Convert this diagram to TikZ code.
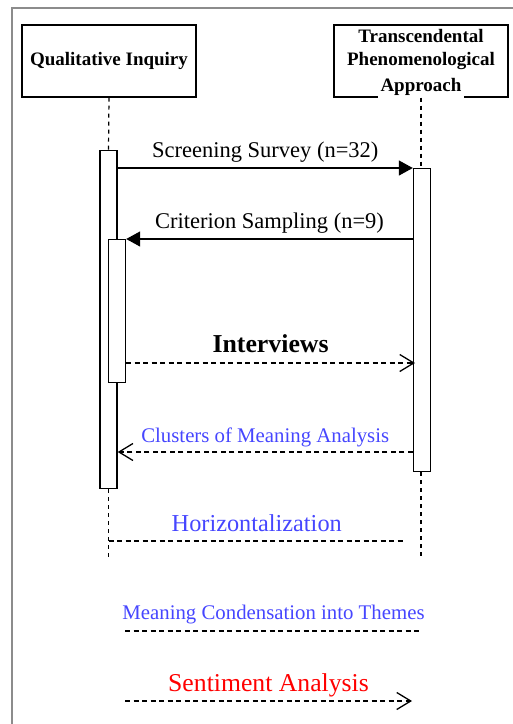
\documentclass[tikz,border=0pt]{standalone}
\usepackage{fontspec}
\setmainfont{Liberation Serif}
\usetikzlibrary{arrows.meta}
\definecolor{mblue}{RGB}{70,70,255}
\definecolor{frame}{RGB}{140,140,140}
\begin{document}
\begin{tikzpicture}[x=1pt,y=-1pt,
  hdr/.style={draw, line width=1.4pt, minimum width=174pt, minimum height=72pt, inner sep=0pt, align=center, font=\fontsize{19}{26}\selectfont\bfseries},
  hdrline/.style={fill=white, inner sep=2.5pt, font=\fontsize{19}{26}\selectfont\bfseries},
  bar/.style={draw, line width=1.4pt, fill=white, minimum width=17pt, inner sep=0pt, anchor=north},
  life/.style={line width=1.2pt, dash pattern=on 4pt off 4pt},
  msg/.style={line width=1.4pt, -{Triangle[length=14pt,width=15pt]}},
  reply/.style={line width=1.3pt, dash pattern=on 5pt off 3.5pt},
  replyarrow/.style={reply, -{Straight Barb[length=14pt,width=17pt,line width=1.3pt]}},
  lbl/.style={anchor=base, inner sep=0pt},
  f225/.style={font=\fontsize{22.5}{27}\selectfont},
  f21/.style={font=\fontsize{20.8}{25}\selectfont},
]
\useasboundingbox (0,0) rectangle (513,724);
% outer frame (only left and top edges visible)
\draw[frame, line width=1.5pt] (12,730) -- (12,8) -- (520,8);

% participants
\node[hdr] (qi) at (109,61) {Qualitative Inquiry};
\node[hdr] (tpa) at (421,61) {};
\node[hdrline] (tpa1) at (421,36) {Transcendental};
\node[hdrline] (tpa2) at (421,61) {Phenomenological};
\node[hdrline] (tpa3) at (421,87) {Approach};

% activation bars
\node[bar, minimum height=338pt] (b1) at (108.5,150) {};
\node[bar, minimum height=303pt] (b2) at (422,168) {};
\node[bar, minimum height=143pt] (b3) at (117,239) {};

% lifelines
\coordinate (l1end) at (108.5,558);
\coordinate (l2end) at (421,558);
\draw[life] (qi.south) -- (b1.north);
\draw[life] (tpa.south) -- (tpa.south |- b2.north);
\draw[life] (b1.south) -- (l1end);
\draw[life] (b2.south -| l2end) -- (l2end);

% messages
\draw[msg] (b1.east |- b2.north) -- (b2.north west)
  node[lbl, f225, midway, yshift=11pt] {Screening Survey (n=32)};
\draw[msg] (b2.west |- b3.north) -- (b3.north east)
  node[lbl, f225, midway, yshift=11pt] {Criterion Sampling (n=9)};

\coordinate (y3) at (0,363);
\coordinate (m3e) at (415,363);
\draw[replyarrow] (b3.east |- y3) -- (m3e)
  node[lbl, midway, yshift=11pt, font=\fontsize{25.8}{30}\selectfont\bfseries] {Interviews};

\coordinate (y4) at (0,452);
\draw[replyarrow] (b2.west |- y4) -- (b1.east |- y4)
  node[lbl, f21, text=mblue, midway, yshift=10pt] {Clusters of Meaning Analysis};

% horizontalization
\coordinate (h1) at (108.5,541);
\coordinate (h2) at (405,541);
\draw[reply] (h1) -- (h2)
  node[lbl, midway, yshift=10pt, text=mblue, font=\fontsize{24.3}{29}\selectfont] {Horizontalization};

% meaning condensation
\coordinate (c1) at (125,631);
\coordinate (c2) at (422,631);
\draw[reply] (c1) -- (c2)
  node[lbl, f21, midway, yshift=12pt, text=mblue] {Meaning Condensation into Themes};

% sentiment analysis
\coordinate (s1) at (125,701);
\coordinate (s2) at (412,701);
\draw[replyarrow] (s1) -- (s2)
  node[lbl, midway, yshift=10pt, text=red, font=\fontsize{25.7}{30}\selectfont] {Sentiment Analysis};
\end{tikzpicture}
\end{document}
